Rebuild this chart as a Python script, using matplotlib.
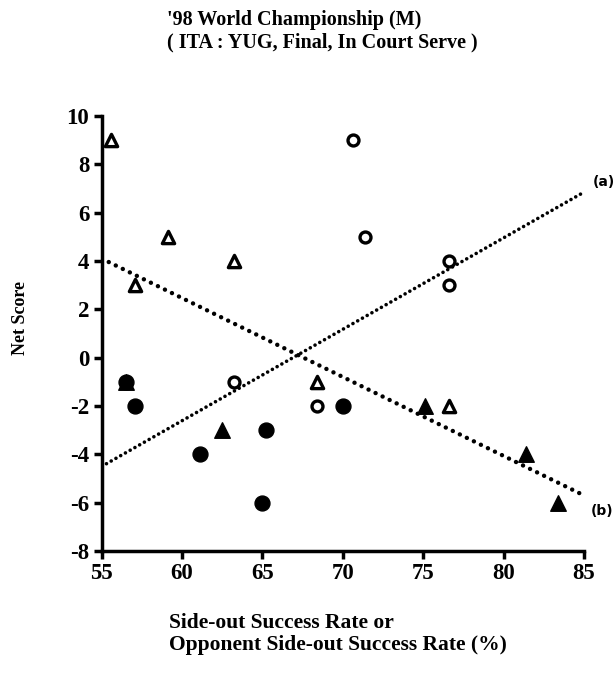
import numpy as np
import matplotlib.pyplot as plt

# open triangles
open_tri_x = [55.6, 59.1, 57.1, 63.2, 68.4, 76.6]
open_tri_y = [9, 5, 3, 4, -1, -2]
# open circles
open_circ_x = [70.6, 71.4, 76.6, 76.6, 63.2, 68.4]
open_circ_y = [9, 5, 4, 3, -1, -2]
# filled circles
fill_circ_x = [56.5, 57.1, 61.1, 65.2, 65.0, 70.0]
fill_circ_y = [-1, -2, -4, -3, -6, -2]
# filled triangles
fill_tri_x = [56.5, 62.5, 75.1, 81.4, 83.4]
fill_tri_y = [-1, -3, -2, -4, -6]
# trend lines (a) and (b)
line_x = [55, 85]
line_a_y = [-4.5, 6.85]
line_b_y = [4.1, -5.7]

plt.rcParams['font.family'] = 'Liberation Serif'
plt.rcParams['font.weight'] = 'bold'
plt.rcParams['axes.unicode_minus'] = False

fig = plt.figure(figsize=(6.15, 6.73), dpi=100)
ax = fig.add_axes([0.1654, 0.1813, 0.7842, 0.6463])

ax.plot(line_x, line_a_y, ls=(0, (0.01, 1.5)), lw=2.6, color='k', dash_capstyle='round')
ax.plot(line_x, line_b_y, ls=(0, (0.01, 1.75)), lw=3.2, color='k', dash_capstyle='round')

ax.scatter(fill_circ_x, fill_circ_y, s=115, marker='o', c='k', zorder=3)
ax.scatter(fill_tri_x, fill_tri_y, s=125, marker='^', c='k', zorder=3)
ax.scatter(open_circ_x, open_circ_y, s=62, marker='o', facecolors='white',
           edgecolors='k', linewidths=2.4, zorder=3)
ax.scatter(open_tri_x, open_tri_y, s=78, marker='^', facecolors='white',
           edgecolors='k', linewidths=2.4, zorder=3)

ax.text(85.55, 7.27, '(a)', fontsize=10, fontweight='bold', family='DejaVu Sans',
        ha='left', va='center', clip_on=False)
ax.text(85.4, -6.35, '(b)', fontsize=10, fontweight='bold', family='DejaVu Sans',
        ha='left', va='center', clip_on=False)

ax.set_xlim(55, 85)
ax.set_ylim(-8, 10)
ax.set_xticks([55, 60, 65, 70, 75, 80, 85])
ax.set_yticks([-8, -6, -4, -2, 0, 2, 4, 6, 8, 10])
for s in ['top', 'right']:
    ax.spines[s].set_visible(False)
for s in ['left', 'bottom']:
    ax.spines[s].set_linewidth(2.5)
ax.tick_params(width=2.5, length=6, labelsize=16.5, pad=3)
for lab in ax.get_xticklabels() + ax.get_yticklabels():
    lab.set_fontweight('bold')

fig.text(0.271, 0.970, "'98 World Championship (M)", fontsize=14.5, fontweight='bold',
         ha='left', va='center')
fig.text(0.271, 0.937, "( ITA : YUG, Final, In Court Serve )", fontsize=14.5,
         fontweight='bold', ha='left', va='center')
fig.text(0.034, 0.527, 'Net Score', fontsize=13, fontweight='bold', rotation=90,
         ha='center', va='center')
fig.text(0.275, 0.075, 'Side-out Success Rate or', fontsize=15.5, fontweight='bold',
         ha='left', va='center')
fig.text(0.275, 0.041, 'Opponent Side-out Success Rate (%)', fontsize=15.5,
         fontweight='bold', ha='left', va='center')

fig.savefig('out.png', dpi=100)
